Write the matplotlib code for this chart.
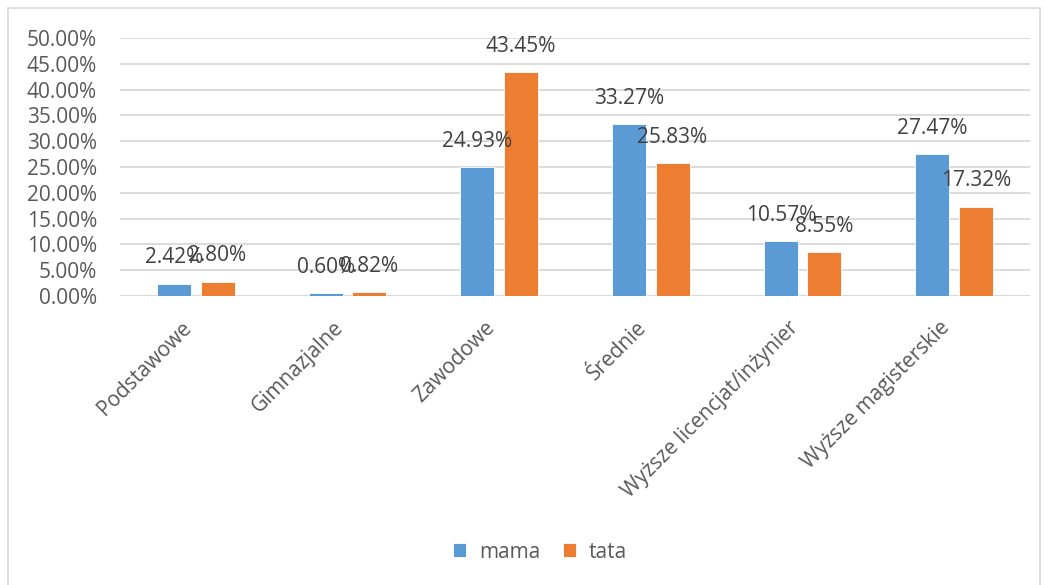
import matplotlib
matplotlib.use("Agg")
import matplotlib.pyplot as plt
import numpy as np
from matplotlib.patches import Rectangle

categories = ["Podstawowe", "Gimnazjalne", "Zawodowe", "Średnie",
              "Wyższe licencjat/inżynier", "Wyższe magisterskie"]
mama = [2.42, 0.60, 24.93, 33.27, 10.57, 27.47]
tata = [2.80, 0.82, 43.45, 25.83, 8.55, 17.32]
series_names = ["mama", "tata"]
yticks = [0, 5, 10, 15, 20, 25, 30, 35, 40, 45, 50]

plt.rcParams['font.family'] = ['Open Sans', 'DejaVu Sans']
txt = '#595959'
fs = 15

fig = plt.figure(figsize=(10.46, 5.85), dpi=100)
ax = fig.add_axes([120/1046, 1-296/585, 910/1046, 258/585])

x = np.arange(len(categories))
w = 0.224
off = 0.143
b1 = ax.bar(x - off, mama, w, color='#5B9BD5', edgecolor='white', linewidth=0.6, label=series_names[0], zorder=3)
b2 = ax.bar(x + off, tata, w, color='#ED7D31', edgecolor='white', linewidth=0.6, label=series_names[1], zorder=3)

for bars, vals in ((b1, mama), (b2, tata)):
    for r, v in zip(bars, vals):
        ax.annotate(f"{v:.2f}%", (r.get_x() + r.get_width()/2, v),
                    xytext=(0, 18.5), textcoords='offset points',
                    ha='center', va='center', fontsize=fs, color='#404040', zorder=4)

ax.set_xlim(-0.5, len(categories) - 0.5)
ax.set_ylim(0, 50)
ax.set_yticks(yticks)
ax.set_yticklabels([f"{t:.2f}%" for t in yticks], fontsize=fs, color=txt)
ax.set_xticks(x)
ax.set_xticklabels(categories, rotation=45, ha='right', va='bottom',
                   rotation_mode='anchor', fontsize=fs, color=txt)
ax.tick_params(axis='y', length=0, pad=16.5)
ax.tick_params(axis='x', length=0, pad=26)
ax.grid(axis='y', color='#D9D9D9', linewidth=1.3, zorder=0)
for s in ax.spines.values():
    s.set_visible(False)
ax.axhline(0, color='#D9D9D9', linewidth=1.3, zorder=2)

leg = fig.legend(loc='center', bbox_to_anchor=(540/1046, 1-552/585), ncol=2,
                 frameon=False, fontsize=fs, handlelength=0.65, handleheight=0.65,
                 columnspacing=1.1, handletextpad=0.6)
for t in leg.get_texts():
    t.set_color(txt)

fig.patches.append(Rectangle((8/1046, -0.01), 1032/1046, 1 - 8/585 + 0.01, transform=fig.transFigure,
                             fill=False, edgecolor='#D9D9D9', linewidth=1.2))

fig.savefig("out.png", dpi=100, facecolor='white')
